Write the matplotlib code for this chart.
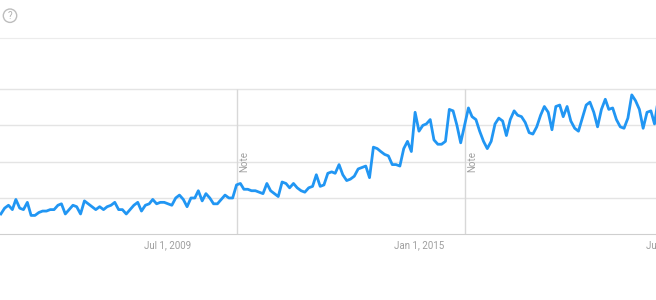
import matplotlib
matplotlib.use("Agg")
from matplotlib import pyplot as plt
from matplotlib.patches import Circle
import matplotlib.dates as mdates
import pandas as pd

# monthly search interest, Nov 2005 .. Apr 2020 (what is visible of the chart)
first_month = "2005-11-01"
interest = [
    14, 18, 20, 17, 24, 18, 17, 22, 13, 13,
    15, 16, 16, 17, 17, 20, 21, 14, 17, 20, 19,
    14, 23, 21, 19, 17, 19, 17, 19, 20, 22,
    17, 17, 14, 17, 20, 22, 16, 20, 21, 24,
    21, 22, 22, 21, 20, 25, 27, 24, 19, 25,
    25, 30, 23, 28, 25, 21, 21, 24, 27, 25, 25,
    34, 35, 31, 31, 30, 30, 29, 28, 35, 30, 28, 26,
    36, 35, 32, 35, 32, 30, 29, 32, 33, 41, 33, 34, 42,
    43, 42, 48, 41, 37, 38, 40, 45, 46, 47, 39, 60,
    59, 57, 55, 54, 48, 48, 47, 59, 64, 57, 84, 71,
    75, 76, 79, 65, 62, 62, 64, 86, 85, 75, 63, 75, 87,
    81, 79, 71, 64, 59, 64, 76, 80, 78, 68,
    79, 85, 82, 81, 77, 70, 69, 74, 82, 88,
    84, 72, 88, 89, 81, 88, 78, 73, 71, 80,
    89, 91, 84, 74, 86, 93, 86, 87, 79, 74,
    73, 80, 96, 92, 86, 73, 84, 85, 76, 94,
]
tick_dates = ["2009-07-01", "2015-01-01", "2020-07-01"]
tick_labels = ["Jul 1, 2009", "Jan 1, 2015", "Jul 1, 2020"]
note_dates = ["2011-01-01", "2016-01-01"]
grid_values = [25, 50, 75, 100]

months = pd.date_range(first_month, periods=len(interest), freq="MS")

# the screenshot is a crop: left edge ~Oct 25 2005, right edge ~Mar 13 2020.
# the axes run on past the right edge so the last tick label gets cut like in the crop
view_left = mdates.date2num(pd.Timestamp("2005-10-25"))
view_right = mdates.date2num(pd.Timestamp("2020-03-13"))
axis_right = mdates.date2num(pd.Timestamp("2021-01-01"))
ax_width = (axis_right - view_left) / (view_right - view_left)

plt.rcParams["font.family"] = ["Roboto", "DejaVu Sans"]

fig = plt.figure(figsize=(6.56, 3.0), dpi=100)
ax = fig.add_axes([0, 0.219, ax_width, 0.655])

for v in grid_values:
    ax.axhline(v, color="#e4e4e4", lw=1, zorder=1)

for d in note_dates:
    d = pd.Timestamp(d)
    ax.vlines(d, 0, 100, color="#d8d8d8", lw=1, zorder=1)
    ax.annotate("Note", xy=(d, 50), xytext=(2, 0), textcoords="offset points",
                rotation=90, ha="left", va="center", fontsize=7, color="#a0a0a0")

ax.plot(months, interest, color="#2196f3", lw=2.0, zorder=3)

ax.set_ylim(0, 135.3)
ax.set_yticks([])
ax.set_xticks([pd.Timestamp(d) for d in tick_dates])
ax.set_xticklabels(tick_labels)
ax.set_xlim(view_left, axis_right)
ax.tick_params(axis="x", length=0, pad=4, labelsize=7, labelcolor="#9e9e9e")

for side in ["left", "right"]:
    ax.spines[side].set_visible(False)
ax.spines["top"].set_color("#ececec")
ax.spines["bottom"].set_color("#cfcfcf")

# help icon in the top left corner
fig.add_artist(Circle((0.10, 2.843), 0.067, transform=fig.dpi_scale_trans,
                      fill=False, edgecolor="#bdbdbd", lw=1))
fig.text(0.10, 2.838, "?", transform=fig.dpi_scale_trans, ha="center",
         va="center", fontsize=7, color="#b0b0b0")

fig.savefig("out.png", dpi=100)
